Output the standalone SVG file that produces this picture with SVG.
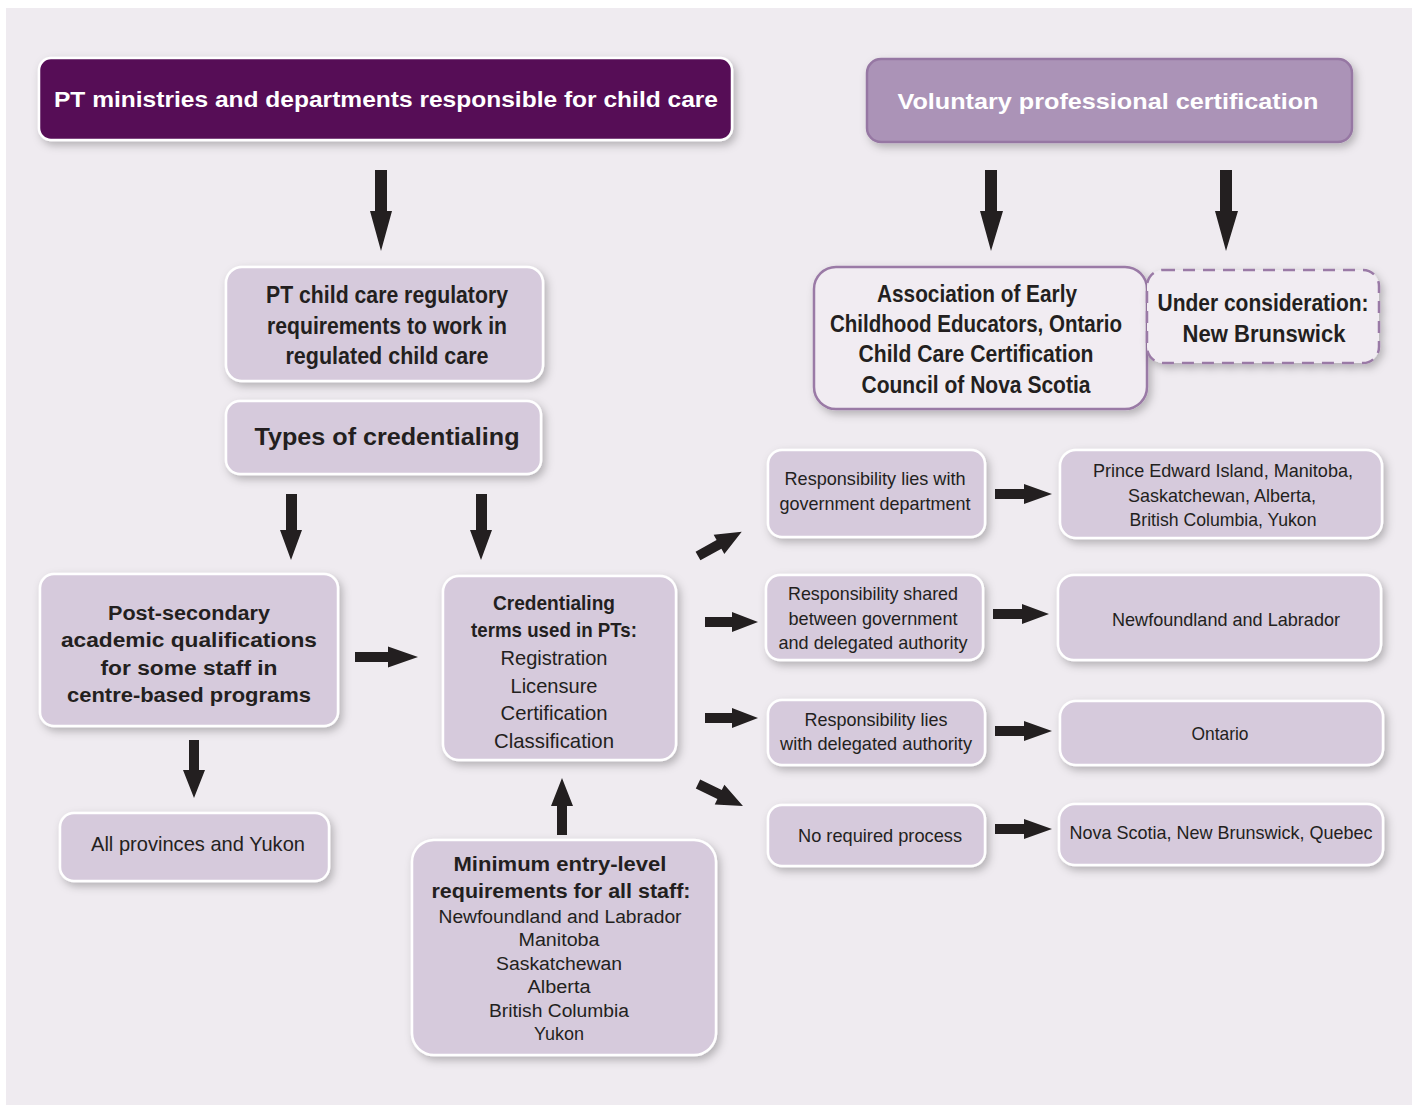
<svg xmlns="http://www.w3.org/2000/svg" width="1414" height="1107" viewBox="0 0 1414 1107">
<defs>
<filter id="sh" x="-10%" y="-10%" width="130%" height="140%">
<feDropShadow dx="3" dy="4" stdDeviation="4" flood-color="#000" flood-opacity="0.25"/>
</filter>
<style>
.bg{fill:#efebf0}
.n{fill:#d6cadc;stroke:#fff;stroke-width:2.5;filter:url(#sh)}
.t{font-family:"Liberation Sans",Arial,sans-serif;fill:#231f20;text-anchor:middle}
.b{font-weight:bold}
.w{fill:#fff}
.a{fill:#231f20}
</style>
</defs>
<rect x="0" y="0" width="1414" height="1107" fill="#fff"/>
<rect class="bg" x="6" y="8" width="1406" height="1097"/>

<g id="connectors">
<polygon class="a" points="375,170 387,170 387,211 392,211 381,251 370,211 375,211"/>
<polygon class="a" points="985,170 997,170 997,211 1003,211 991,251 980,211 985,211"/>
<polygon class="a" points="1220,170 1232,170 1232,211 1238,211 1226,251 1215,211 1220,211"/>
<polygon class="a" points="286,494 297,494 297,530 302,530 291,560 280,530 286,530"/>
<polygon class="a" points="476,494 487,494 487,530 492,530 481,560 470,530 476,530"/>
<polygon class="a" points="189,740 199,740 199,770 205,770 194,798 183,770 189,770"/>
<polygon class="a" points="557,835 567,835 567,806 573,806 562,778 551,806 557,806"/>
<polygon class="a" points="355,652 388,652 388,646.5 418,657 388,667.5 388,662 355,662"/>
<polygon class="a" points="705,617 732,617 732,612 758,622 732,632 732,627 705,627"/>
<polygon class="a" points="705,713 732,713 732,708 758,718 732,728 732,723 705,723"/>
<g transform="translate(698,556) rotate(-29)">
<polygon class="a" points="0,-5 24,-5 24,-11 50,0 24,11 24,5 0,5"/>
</g>
<g transform="translate(698,784) rotate(26)">
<polygon class="a" points="0,-5 24,-5 24,-11 50,0 24,11 24,5 0,5"/>
</g>
<polygon class="a" points="995,489 1024,489 1024,484 1052,494 1024,504 1024,499 995,499"/>
<polygon class="a" points="993,609 1022,609 1022,604 1049,614 1022,624 1022,619 993,619"/>
<polygon class="a" points="995,726 1024,726 1024,721 1052,731 1024,741 1024,736 995,736"/>
<polygon class="a" points="995,824 1024,824 1024,819 1052,829 1024,839 1024,834 995,834"/>
</g>

<g id="n-pt-ministries">
<rect x="39" y="58" width="693" height="82" rx="12" fill="#560b57" stroke="#fff" stroke-width="2.5" filter="url(#sh)"/>
<text class="t b w" x="386" y="107" font-size="22" textLength="664" lengthAdjust="spacingAndGlyphs">PT ministries and departments responsible for child care</text>
</g>

<g id="n-voluntary">
<rect x="867" y="59" width="485" height="83" rx="14" fill="#ab93b7" stroke="#9677a3" stroke-width="2.5" filter="url(#sh)"/>
<text class="t b w" x="1108" y="109" font-size="22" textLength="421" lengthAdjust="spacingAndGlyphs">Voluntary professional certification</text>
</g>

<g id="n-regulatory">
<rect class="n" x="226" y="267" width="317" height="114" rx="16"/>
<text class="t b" x="387" y="303" font-size="24" textLength="242" lengthAdjust="spacingAndGlyphs">PT child care regulatory</text>
<text class="t b" x="387" y="334" font-size="24" textLength="240" lengthAdjust="spacingAndGlyphs">requirements to work in</text>
<text class="t b" x="387" y="364" font-size="24" textLength="203" lengthAdjust="spacingAndGlyphs">regulated child care</text>
</g>

<g id="n-types">
<rect class="n" x="226" y="401" width="315" height="73" rx="14"/>
<text class="t b" x="387" y="445" font-size="24" textLength="265" lengthAdjust="spacingAndGlyphs">Types of credentialing</text>
</g>

<g id="n-postsecondary">
<rect class="n" x="40" y="574" width="298" height="152" rx="14"/>
<text class="t b" x="189" y="620" font-size="20" textLength="162" lengthAdjust="spacingAndGlyphs">Post-secondary</text>
<text class="t b" x="189" y="647" font-size="20" textLength="256" lengthAdjust="spacingAndGlyphs">academic qualifications</text>
<text class="t b" x="189" y="675" font-size="20" textLength="177" lengthAdjust="spacingAndGlyphs">for some staff in</text>
<text class="t b" x="189" y="702" font-size="20" textLength="244" lengthAdjust="spacingAndGlyphs">centre-based programs</text>
</g>

<g id="n-allprov">
<rect class="n" x="60" y="813" width="269" height="68" rx="14"/>
<text class="t" x="198" y="851" font-size="21" textLength="214" lengthAdjust="spacingAndGlyphs">All provinces and Yukon</text>
</g>

<g id="n-credentialing">
<rect class="n" x="443" y="576" width="233" height="184" rx="16"/>
<text class="t b" x="554" y="610" font-size="21" textLength="122" lengthAdjust="spacingAndGlyphs">Credentialing</text>
<text class="t b" x="554" y="637" font-size="21" textLength="166" lengthAdjust="spacingAndGlyphs">terms used in PTs:</text>
<text class="t" x="554" y="665" font-size="21" textLength="107" lengthAdjust="spacingAndGlyphs">Registration</text>
<text class="t" x="554" y="693" font-size="21" textLength="87" lengthAdjust="spacingAndGlyphs">Licensure</text>
<text class="t" x="554" y="720" font-size="21" textLength="107" lengthAdjust="spacingAndGlyphs">Certification</text>
<text class="t" x="554" y="748" font-size="21" textLength="120" lengthAdjust="spacingAndGlyphs">Classification</text>
</g>

<g id="n-minimum">
<rect class="n" x="412" y="840" width="304" height="215" rx="22"/>
<text class="t b" x="560" y="871" font-size="20" textLength="213" lengthAdjust="spacingAndGlyphs">Minimum entry-level</text>
<text class="t b" x="561" y="898" font-size="20" textLength="259" lengthAdjust="spacingAndGlyphs">requirements for all staff:</text>
<text class="t" x="560" y="923" font-size="18" textLength="243" lengthAdjust="spacingAndGlyphs">Newfoundland and Labrador</text>
<text class="t" x="559" y="946" font-size="18" textLength="81" lengthAdjust="spacingAndGlyphs">Manitoba</text>
<text class="t" x="559" y="970" font-size="18" textLength="126" lengthAdjust="spacingAndGlyphs">Saskatchewan</text>
<text class="t" x="559" y="993" font-size="18" textLength="63" lengthAdjust="spacingAndGlyphs">Alberta</text>
<text class="t" x="559" y="1017" font-size="18" textLength="140" lengthAdjust="spacingAndGlyphs">British Columbia</text>
<text class="t" x="559" y="1040" font-size="18" textLength="50" lengthAdjust="spacingAndGlyphs">Yukon</text>
</g>

<g id="n-association">
<rect x="814" y="267" width="333" height="142" rx="22" fill="#f1ecf2" stroke="#9a7aa6" stroke-width="2.5" filter="url(#sh)"/>
<text class="t b" x="977" y="302" font-size="24" textLength="200" lengthAdjust="spacingAndGlyphs">Association of Early</text>
<text class="t b" x="976" y="332" font-size="24" textLength="292" lengthAdjust="spacingAndGlyphs">Childhood Educators, Ontario</text>
<text class="t b" x="976" y="362" font-size="24" textLength="235" lengthAdjust="spacingAndGlyphs">Child Care Certification</text>
<text class="t b" x="976" y="393" font-size="24" textLength="229" lengthAdjust="spacingAndGlyphs">Council of Nova Scotia</text>
</g>

<g id="n-underconsideration">
<rect x="1147" y="270" width="232" height="93" rx="16" fill="#f1ecf2" stroke="#9a7aa6" stroke-width="2.5" stroke-dasharray="12 8" filter="url(#sh)"/>
<text class="t b" x="1263" y="311" font-size="24" textLength="211" lengthAdjust="spacingAndGlyphs">Under consideration:</text>
<text class="t b" x="1264" y="342" font-size="24" textLength="163" lengthAdjust="spacingAndGlyphs">New Brunswick</text>
</g>

<g id="n-resp-gov">
<rect class="n" x="768" y="450" width="217" height="87" rx="14"/>
<text class="t" x="875" y="485" font-size="19" textLength="181" lengthAdjust="spacingAndGlyphs">Responsibility lies with</text>
<text class="t" x="875" y="510" font-size="19" textLength="191" lengthAdjust="spacingAndGlyphs">government department</text>
</g>

<g id="n-resp-shared">
<rect class="n" x="766" y="575" width="217" height="85" rx="14"/>
<text class="t" x="873" y="600" font-size="19" textLength="170" lengthAdjust="spacingAndGlyphs">Responsibility shared</text>
<text class="t" x="873" y="625" font-size="19" textLength="169" lengthAdjust="spacingAndGlyphs">between government</text>
<text class="t" x="873" y="649" font-size="19" textLength="189" lengthAdjust="spacingAndGlyphs">and delegated authority</text>
</g>

<g id="n-resp-delegated">
<rect class="n" x="768" y="700" width="217" height="65" rx="14"/>
<text class="t" x="876" y="726" font-size="19" textLength="143" lengthAdjust="spacingAndGlyphs">Responsibility lies</text>
<text class="t" x="876" y="750" font-size="19" textLength="192" lengthAdjust="spacingAndGlyphs">with delegated authority</text>
</g>

<g id="n-no-process">
<rect class="n" x="768" y="805" width="217" height="61" rx="14"/>
<text class="t" x="880" y="842" font-size="19" textLength="164" lengthAdjust="spacingAndGlyphs">No required process</text>
</g>

<g id="n-pei">
<rect class="n" x="1060" y="450" width="322" height="88" rx="16"/>
<text class="t" x="1223" y="477" font-size="19" textLength="260" lengthAdjust="spacingAndGlyphs">Prince Edward Island, Manitoba,</text>
<text class="t" x="1222" y="502" font-size="19" textLength="188" lengthAdjust="spacingAndGlyphs">Saskatchewan, Alberta,</text>
<text class="t" x="1223" y="526" font-size="19" textLength="187" lengthAdjust="spacingAndGlyphs">British Columbia, Yukon</text>
</g>

<g id="n-nl">
<rect class="n" x="1058" y="575" width="323" height="85" rx="16"/>
<text class="t" x="1226" y="626" font-size="19" textLength="228" lengthAdjust="spacingAndGlyphs">Newfoundland and Labrador</text>
</g>

<g id="n-ontario">
<rect class="n" x="1060" y="701" width="323" height="64" rx="16"/>
<text class="t" x="1220" y="740" font-size="19" textLength="57" lengthAdjust="spacingAndGlyphs">Ontario</text>
</g>

<g id="n-ns">
<rect class="n" x="1059" y="804" width="324" height="61" rx="16"/>
<text class="t" x="1221" y="839" font-size="19" textLength="303" lengthAdjust="spacingAndGlyphs">Nova Scotia, New Brunswick, Quebec</text>
</g>
</svg>
